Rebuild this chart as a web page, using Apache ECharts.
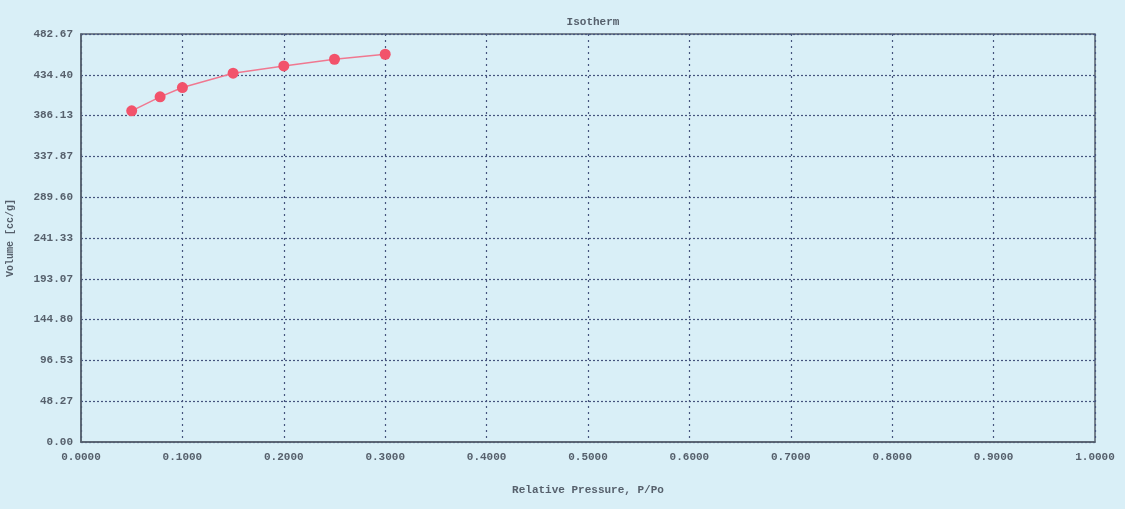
<!DOCTYPE html>
<html>
<head>
<meta charset="utf-8">
<title>Isotherm</title>
<script src="https://cdn.jsdelivr.net/npm/echarts@6/dist/echarts.min.js"></script>
<style>
  html, body { margin: 0; padding: 0; background: #d9eff7; }
  #chart { width: 1125px; height: 509px; }
</style>
</head>
<body>
<div id="chart"></div>
<script>
// Adsorption isotherm: relative pressure vs. adsorbed volume
const pressure = [0.05, 0.078, 0.10, 0.15, 0.20, 0.25, 0.30];
const volume = [391.8, 408.3, 419.3, 436.3, 444.9, 452.8, 458.7];

const xTickLabels = ['0.0000', '0.1000', '0.2000', '0.3000', '0.4000', '0.5000',
                     '0.6000', '0.7000', '0.8000', '0.9000', '1.0000'];
const yTickLabels = ['0.00', '48.27', '96.53', '144.80', '193.07', '241.33',
                     '289.60', '337.87', '386.13', '434.40', '482.67'];

const xMax = 1.0;
const yMax = 482.666;
const xStep = xMax / (xTickLabels.length - 1);
const yStep = yMax / (yTickLabels.length - 1);

const font = 'Liberation Mono';
const textColor = '#56606c';
const gridColor = '#46557e';

const chart = echarts.init(document.getElementById('chart'));
chart.setOption({
  backgroundColor: '#d9eff7',
  animation: false,
  title: {
    text: 'Isotherm',
    left: 588,
    textAlign: 'center',
    top: 12,
    textStyle: { fontFamily: font, fontSize: 11, fontWeight: 'bold', color: textColor }
  },
  grid: { left: 81, right: 30, top: 34, bottom: 67, show: true,
          containLabel: false, outerBoundsMode: 'none',
          borderColor: '#56606e', borderWidth: 1.5, backgroundColor: 'transparent' },
  xAxis: {
    type: 'value', min: 0, max: xMax, interval: xStep,
    name: 'Relative Pressure, P/Po',
    nameLocation: 'middle', nameGap: 43,
    nameTextStyle: { fontFamily: font, fontSize: 11, fontWeight: 'bold', color: textColor },
    axisLine: { show: true, lineStyle: { color: '#56606e', width: 1.5 } },
    axisTick: { show: false },
    axisLabel: {
      fontFamily: font, fontSize: 11, fontWeight: 'bold', color: textColor, margin: 10,
      formatter: v => xTickLabels[Math.round(v / xStep)]
    },
    splitLine: { show: true, lineStyle: { color: gridColor, type: [2, 4], width: 1.2 } }
  },
  yAxis: {
    type: 'value', min: 0, max: yMax, interval: yStep,
    name: 'Volume [cc/g]',
    nameLocation: 'middle', nameGap: 66, nameRotate: 90,
    nameTextStyle: { fontFamily: font, fontSize: 10, fontWeight: 'bold', color: textColor },
    axisLine: { show: true, lineStyle: { color: '#56606e', width: 1.5 } },
    axisTick: { show: false },
    axisLabel: {
      fontFamily: font, fontSize: 11, fontWeight: 'bold', color: textColor, margin: 8,
      formatter: v => yTickLabels[Math.round(v / yStep)]
    },
    splitLine: { show: true, lineStyle: { color: gridColor, type: [2, 2], width: 1.2 } }
  },
  series: [{
    type: 'line',
    data: pressure.map((p, i) => [p, volume[i]]),
    symbol: 'circle',
    symbolSize: 11,
    lineStyle: { color: '#f07890', width: 1.5 },
    itemStyle: { color: '#f2536b' }
  }]
});
</script>
</body>
</html>
